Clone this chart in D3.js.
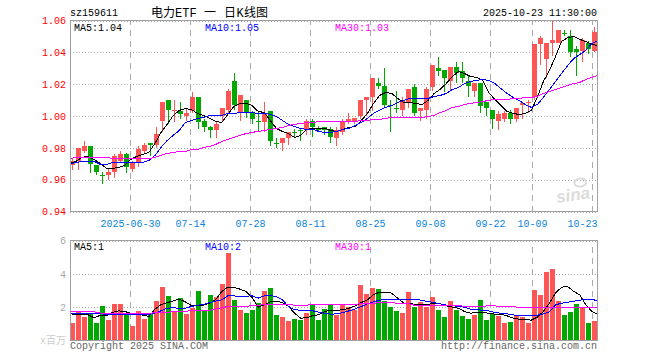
<!DOCTYPE html>
<html>
<head>
<meta charset="utf-8">
<script src="https://cdn.jsdelivr.net/npm/d3@7"></script>
<style>
  html, body { margin: 0; padding: 0; background: #fff; }
  svg { display: block; }
  text { font-family: "Liberation Mono", "Noto Sans CJK SC", monospace; font-size: 10px; }
  .domain { display: none; }
</style>
</head>
<body>
<svg id="chart" width="660" height="360"></svg>
<script>
/* DATA */
const dates = [
  "2025-06-16","2025-06-17","2025-06-18","2025-06-19","2025-06-20","2025-06-23","2025-06-24","2025-06-25","2025-06-26","2025-06-27",
  "2025-06-30","2025-07-01","2025-07-02","2025-07-03","2025-07-04","2025-07-07","2025-07-08","2025-07-09","2025-07-10","2025-07-11",
  "2025-07-14","2025-07-15","2025-07-16","2025-07-17","2025-07-18","2025-07-21","2025-07-22","2025-07-23","2025-07-24","2025-07-25",
  "2025-07-28","2025-07-29","2025-07-30","2025-07-31","2025-08-01","2025-08-04","2025-08-05","2025-08-06","2025-08-07","2025-08-08",
  "2025-08-11","2025-08-12","2025-08-13","2025-08-14","2025-08-15","2025-08-18","2025-08-19","2025-08-20","2025-08-21","2025-08-22",
  "2025-08-25","2025-08-26","2025-08-27","2025-08-28","2025-08-29","2025-09-01","2025-09-02","2025-09-03","2025-09-04","2025-09-05",
  "2025-09-08","2025-09-09","2025-09-10","2025-09-11","2025-09-12","2025-09-15","2025-09-16","2025-09-17","2025-09-18","2025-09-19",
  "2025-09-22","2025-09-23","2025-09-24","2025-09-25","2025-09-26","2025-09-29","2025-09-30","2025-10-09","2025-10-10","2025-10-13",
  "2025-10-14","2025-10-15","2025-10-16","2025-10-17","2025-10-20","2025-10-21","2025-10-22","2025-10-23"
];

const opens = [
  .969,.972,.978,.981,.969,.963,.963,.965,.972,.976,.967,.971,.978,.983,.982,.997,1.010,1.003,1.003,1.000,
  1.003,1.012,.997,.993,.991,1.000,1.004,1.022,1.002,1.010,1.002,.997,.996,1.003,.983,.983,.986,.990,.991,.992,
  .997,.992,.993,.992,.986,.990,.996,.997,1.000,1.010,1.012,1.021,1.019,1.007,1.005,1.004,1.008,1.018,1.003,1.004,
  1.018,1.030,1.029,1.022,1.031,1.028,1.022,1.016,1.021,1.009,1.004,.997,.998,1.002,.998,1.007,1.008,1.012,1.045,1.036,
  1.046,1.046,1.052,1.050,1.042,1.041,1.046,1.041
];
const highs = [
  .973,.980,.984,.981,.969,.965,.967,.976,.978,.977,.972,.981,.983,.983,.993,1.009,1.010,1.010,1.009,1.005,
  1.015,1.012,.998,.994,.996,1.005,1.017,1.027,1.013,1.010,1.003,1.003,1.009,1.003,.986,.986,.990,.992,.992,.998,
  .998,.994,.993,.993,.993,.998,1.002,.999,1.010,1.012,1.024,1.024,1.030,1.010,1.016,1.012,1.017,1.020,1.005,1.018,
  1.032,1.037,1.029,1.031,1.034,1.034,1.025,1.021,1.021,1.009,1.004,1.003,1.003,1.004,1.005,1.009,1.010,1.045,1.050,1.046,
  1.060,1.054,1.054,1.054,1.044,1.049,1.047,1.056
];
const lows = [
  .966,.966,.977,.964,.963,.957,.960,.961,.971,.964,.965,.968,.977,.975,.980,.990,.995,.996,.998,.997,
  1.002,.992,.990,.986,.986,.996,1.001,1.004,.997,.999,.995,.990,.990,.981,.980,.978,.982,.986,.984,.988,
  .987,.990,.988,.983,.981,.988,.995,.995,.998,1.000,1.003,1.017,1.005,.990,1.002,1.000,1.005,1.000,.997,.998,
  1.016,1.025,1.015,1.016,1.021,1.021,1.012,1.012,1.002,1.000,.992,.991,.996,.995,.996,.998,1.002,1.010,1.032,1.024,
  1.038,1.046,1.050,1.037,1.025,1.034,1.039,1.040
];
const closes = [
  .972,.980,.981,.970,.965,.962,.965,.975,.976,.968,.971,.979,.982,.982,.989,1.009,1.004,1.004,1.001,1.002,
  1.012,.996,.993,.991,.995,1.005,1.016,1.007,1.013,1.002,.998,.996,1.002,.984,.983,.986,.990,.990,.991,.997,
  .993,.992,.991,.987,.991,.997,.998,.999,1.010,1.012,1.024,1.019,1.007,1.007,1.005,1.010,1.017,1.002,1.005,1.017,
  1.032,1.028,1.024,1.031,1.027,1.024,1.019,1.021,1.006,1.005,.998,1.001,1.002,.998,1.005,1.008,1.009,1.045,1.049,1.046,
  1.048,1.054,1.052,1.040,1.040,1.048,1.042,1.053
];

const priceMa5 = [
  .9702,.9715,.9740,.9746,.9727,.9702,.9671,.9671,.9677,.9689,.9727,.9746,.9759,.9771,.9828,.9897,.9947,1.0003,1.0035,1.0047,
  1.0041,1.0016,1.0003,.9985,.9966,.9959,1.0010,1.0060,1.0079,1.0079,1.0066,1.0029,1.0022,.9972,.9922,.9903,.9890,.9865,.9878,.9916,
  .9922,.9922,.9922,.9909,.9903,.9916,.9928,.9934,.9972,1.0016,1.0079,1.0129,1.0148,1.0142,1.0110,1.0085,1.0085,1.0079,1.0072,1.0098,
  1.0142,1.0167,1.0204,1.0248,1.0280,1.0267,1.0248,1.0242,1.0223,1.0148,1.0104,1.0066,1.0029,1.0016,1.0010,1.0016,1.0035,1.0117,1.0217,1.0286,
  1.0374,1.0468,1.0493,1.0499,1.0481,1.0468,1.0449,1.0443
];
const priceMa10 = [
  .9696,.9708,.9715,.9715,.9715,.9696,.9696,.9708,.9708,.9708,.9708,.9708,.9708,.9721,.9752,.9803,.9846,.9878,.9909,.9959,
  .9972,.9985,.9991,1.0003,1.0003,1.0003,1.0016,1.0016,1.0022,1.0022,1.0022,1.0016,1.0016,1.0010,.9997,.9972,.9947,.9934,.9922,.9916,
  .9916,.9903,.9897,.9897,.9903,.9916,.9922,.9941,.9959,.9985,1.0016,1.0035,1.0054,1.0066,1.0085,1.0098,1.0110,1.0110,1.0110,1.0110,
  1.0123,1.0129,1.0142,1.0167,1.0179,1.0204,1.0217,1.0223,1.0230,1.0223,1.0204,1.0173,1.0142,1.0117,1.0098,1.0072,1.0054,1.0072,1.0117,1.0167,
  1.0217,1.0267,1.0317,1.0361,1.0386,1.0412,1.0456,1.0474
];
const priceMa30 = [
  .9733,.9740,.9740,.9740,.9740,.9740,.9740,.9733,.9733,.9733,.9733,.9733,.9733,.9733,.9740,.9752,.9765,.9771,.9777,.9777,
  .9790,.9790,.9803,.9809,.9821,.9840,.9853,.9865,.9878,.9890,.9897,.9903,.9909,.9916,.9922,.9928,.9941,.9947,.9953,.9959,
  .9959,.9966,.9966,.9966,.9966,.9966,.9966,.9966,.9972,.9972,.9978,.9978,.9985,.9991,.9991,.9991,.9991,.9991,.9991,.9997,
  1.0003,1.0022,1.0035,1.0054,1.0060,1.0072,1.0079,1.0085,1.0091,1.0098,1.0104,1.0104,1.0104,1.0110,1.0110,1.0117,1.0117,1.0123,1.0142,1.0154,
  1.0167,1.0179,1.0192,1.0204,1.0211,1.0230,1.0242,1.0255
];

const volumes = [
  1.06,1.78,1.42,1.64,1.06,2.08,1.24,2.2,2.2,1.6,.88,1.78,1.3,1.64,2.38,3.22,2.68,1.7,2.56,1.6,
  1.96,2.98,1.78,2.74,2.62,3.4,5.26,2.44,1.84,1.66,1.84,2.26,2.98,3.16,1.54,1.42,1.18,1.3,1.24,1.66,
  2.14,1.24,1.9,2.2,1.54,2.14,2.02,1.84,3.34,2.8,3.16,3.1,2.38,2.02,1.78,1.66,2.92,2.02,2.32,2.02,
  2.62,1.84,1.42,2.38,1.84,1.48,1.3,1.54,2.44,1.24,1.6,1.48,1.06,1.12,1.48,1.42,1.06,3.04,2.74,4.12,
  4.3,2.38,1.54,1.72,2.2,2.02,1.06,1.18
];
const volMa5 = [
  1.62,1.54,1.54,1.54,1.36,1.52,1.5,1.68,1.78,1.74,1.64,1.64,1.52,1.44,1.88,2.16,2.26,2.38,2.48,2.32,
  2.1,2.12,2.12,2.24,2.44,2.94,3.2,3.2,3.08,2.94,2.58,2.0,2.14,2.32,2.36,2.28,2.04,1.64,1.34,1.36,
  1.5,1.54,1.74,1.82,1.82,1.84,1.94,2.08,2.28,2.44,2.74,2.9,2.9,2.84,2.54,2.24,2.2,2.18,2.16,2.16,
  2.24,2.2,2.08,2.0,1.94,1.74,1.64,1.68,1.68,1.64,1.58,1.58,1.48,1.34,1.28,1.28,1.22,1.4,1.74,2.24,
  2.84,3.2,3.24,2.94,2.74,2.14,1.74,1.58
];
const volMa10 = [
  1.64,1.62,1.62,1.62,1.6,1.6,1.58,1.58,1.58,1.58,1.58,1.58,1.56,1.56,1.64,1.78,1.94,1.96,1.94,1.94,
  2.04,2.12,2.16,2.28,2.36,2.44,2.68,2.68,2.64,2.66,2.68,2.54,2.68,2.7,2.64,2.44,2.04,1.84,1.82,1.8,
  1.78,1.7,1.62,1.58,1.6,1.68,1.78,1.9,2.04,2.2,2.32,2.42,2.46,2.44,2.44,2.44,2.46,2.48,2.4,2.34,
  2.28,2.2,2.12,2.08,2.06,2.0,1.88,1.84,1.82,1.78,1.68,1.64,1.6,1.54,1.48,1.48,1.48,1.52,1.6,1.72,
  2.14,2.24,2.3,2.36,2.42,2.48,2.48,2.36
];
const volMa30 = [
  1.74,1.74,1.74,1.74,1.72,1.64,1.64,1.64,1.64,1.64,1.64,1.64,1.64,1.64,1.66,1.68,1.7,1.72,1.76,1.76,
  1.78,1.82,1.82,1.82,1.88,1.96,2.04,2.04,2.06,2.06,2.08,2.12,2.16,2.18,2.18,2.18,2.16,2.12,2.1,2.12,
  2.16,2.16,2.16,2.16,2.16,2.16,2.16,2.18,2.2,2.22,2.24,2.26,2.26,2.26,2.24,2.24,2.2,2.08,2.08,2.12,
  2.12,2.12,2.1,2.1,2.08,2.06,2.06,2.04,2.04,2.1,2.08,2.04,2.04,2.02,2.0,2.0,2.0,1.96,1.98,1.96,
  1.98,1.98,1.98,1.98,1.98,1.98,1.98,1.98
];

const priceTicks = [0.94, 0.96, 0.98, 1.00, 1.02, 1.04, 1.06];
const volTicks = [2, 4, 6];
const dateTicks = ["2025-06-30","2025-07-14","2025-07-28","2025-08-11","2025-08-25","2025-09-08","2025-09-22","2025-10-09","2025-10-23"];
const dateLabels = ["2025-06-30","07-14","07-28","08-11","08-25","09-08","09-22","10-09","10-23"];

/* SETUP */
const left = 70, right = 598;
const priceTop = 20.5, priceBottom = 211.5;
const volTop = 240.5, volBottom = 340.5;
const RED = "#ff5555", GREEN = "#00a800", GRID = "#aaaaaa";

const svg = d3.select("#chart");

// SCALES
const xBand = d3.scaleBand().domain(dates).range([left - 0.5, right - 0.5]).paddingInner(1 / 6).paddingOuter(1 / 12);
const xEdge = d3.scalePoint().domain(dates).range([left, left + 6 * (dates.length - 1)]);
const xLine = d3.scalePoint().domain(dates).range([left, right]);
const yPrice = d3.scaleLinear().domain([0.94, 1.06]).range([priceBottom, priceTop]);
const yVol = d3.scaleLinear().domain([0, 6]).range([volBottom, volTop]);

// AXES + GRID
function styleGrid(g, dash) {
  g.select(".domain").remove();
  g.selectAll(".tick line").attr("stroke", GRID).attr("stroke-dasharray", dash).attr("shape-rendering", "crispEdges");
}

svg.append("g")
  .attr("transform", `translate(${left},0)`)
  .call(d3.axisLeft(yPrice).tickValues(priceTicks).tickSize(-(right - left)).tickPadding(4).tickFormat(d3.format(".2f")))
  .call(styleGrid, "1,2")
  .selectAll("text").attr("fill", "#ff0000").style("font-size", "10px");

svg.append("g")
  .attr("transform", `translate(${left},0)`)
  .call(d3.axisLeft(yVol).tickValues(volTicks).tickSize(-(right - left)).tickPadding(4).tickFormat(d3.format("d")))
  .call(styleGrid, "1,2")
  .selectAll("text").attr("fill", "#aaaaaa").style("font-size", "10px");

const xAxisPrice = svg.append("g")
  .attr("transform", `translate(0,${priceBottom})`)
  .call(d3.axisBottom(xEdge).tickValues(dateTicks).tickSize(-(priceBottom - priceTop)).tickPadding(8).tickFormat((d, i) => dateLabels[i]))
  .call(styleGrid, "6,5");
xAxisPrice.selectAll("text").attr("fill", "#0a84dc").style("font-size", "10px");
// last label would run past the frame, so it hangs back from the tick
xAxisPrice.selectAll(".tick:last-of-type text").attr("text-anchor", "end").attr("x", 5);

svg.append("g")
  .attr("transform", `translate(0,${volBottom})`)
  .call(d3.axisBottom(xEdge).tickValues(dateTicks).tickSize(-(volBottom - volTop)).tickFormat(""))
  .call(styleGrid, "6,5");

// WATERMARK
const mark = svg.append("g").attr("transform", "translate(557,203) rotate(-8)").attr("fill", "#dcdcdc");
mark.append("text").text("sina").style("font-family", "'Liberation Sans'").style("font-size", "17px").style("font-weight", "bold").style("font-style", "italic");
mark.append("ellipse").attr("cx", 26).attr("cy", -17).attr("rx", 6).attr("ry", 4).attr("fill", "none").attr("stroke", "#dcdcdc").attr("stroke-width", 2);

// CANDLES
const candles = dates.map((d, i) => ({date: d, open: opens[i], high: highs[i], low: lows[i], close: closes[i]}));
const isUp = d => d.close > d.open;

svg.append("g").selectAll("rect.wick")
  .data(candles)
  .join("rect")
  .attr("class", "wick")
  .attr("x", d => xBand(d.date) + 2)
  .attr("width", 1)
  .attr("y", d => yPrice(d.high))
  .attr("height", d => yPrice(d.low) - yPrice(d.high))
  .attr("fill", d => isUp(d) ? RED : GREEN)
  .attr("shape-rendering", "crispEdges");

svg.append("g").selectAll("rect.body")
  .data(candles)
  .join("rect")
  .attr("class", "body")
  .attr("x", d => xBand(d.date))
  .attr("width", xBand.bandwidth())
  .attr("y", d => yPrice(Math.max(d.open, d.close)))
  .attr("height", d => Math.max(1, Math.abs(yPrice(d.open) - yPrice(d.close))))
  .attr("fill", d => isUp(d) ? RED : GREEN)
  .attr("shape-rendering", "crispEdges");

// VOLUME BARS
svg.append("g").selectAll("rect.vol")
  .data(volumes)
  .join("rect")
  .attr("class", "vol")
  .attr("x", (d, i) => xBand(dates[i]))
  .attr("width", xBand.bandwidth())
  .attr("y", d => yVol(d))
  .attr("height", d => yVol(0) - yVol(d))
  .attr("fill", (d, i) => isUp(candles[i]) ? RED : GREEN)
  .attr("shape-rendering", "crispEdges");

// MOVING AVERAGES
function drawLine(values, y, color) {
  const line = d3.line().x((d, i) => xLine(dates[i])).y(d => y(d));
  svg.append("path")
    .datum(values)
    .attr("d", line)
    .attr("fill", "none")
    .attr("stroke", color)
    .attr("stroke-width", 1)
    .attr("shape-rendering", "crispEdges");
}
drawLine(priceMa5, yPrice, "#000000");
drawLine(priceMa10, yPrice, "#0000ff");
drawLine(priceMa30, yPrice, "#ff00ff");
drawLine(volMa5, yVol, "#000000");
drawLine(volMa10, yVol, "#0000ff");
drawLine(volMa30, yVol, "#ff00ff");

// FRAMES
[[priceTop, priceBottom], [volTop, volBottom]].forEach(r => {
  svg.append("rect")
    .attr("x", left + 0.5).attr("y", r[0])
    .attr("width", right - left - 1).attr("height", r[1] - r[0])
    .attr("fill", "none").attr("stroke", "#a0a0a0").attr("shape-rendering", "crispEdges");
});

// TEXT
function label(x, y, str, color, anchor) {
  return svg.append("text").attr("x", x).attr("y", y).attr("fill", color).attr("text-anchor", anchor || "start").text(str);
}
label(70, 16, "sz159611", "#000");
// title pieces are placed one by one, the spacing in the picture is not a font's own
label(151, 17, "电力", "#000").style("font-size", "12px");
label(175, 17, "ETF", "#000").style("font-size", "12px");
label(204, 17, "一", "#000").style("font-size", "12px");
label(224, 17, "日", "#000").style("font-size", "12px");
label(236.5, 17, "K", "#000").style("font-size", "12px");
label(244, 17, "线图", "#000").style("font-size", "12px");
label(597, 16, "2025-10-23 11:30:00", "#000", "end");

label(74, 31, "MA5:1.04", "#000");
label(205, 31, "MA10:1.05", "#0000ff");
label(335, 31, "MA30:1.03", "#ff00ff");
label(74, 250, "MA5:1", "#000");
label(205, 250, "MA10:2", "#0000ff");
label(335, 250, "MA30:1", "#ff00ff");

label(66, 344, "x百万", "#cccccc", "end");
label(70, 349, "Copyright 2025 SINA.COM", "#666666");
label(597, 349, "http://finance.sina.com.cn", "#666666", "end");
</script>
</body>
</html>
